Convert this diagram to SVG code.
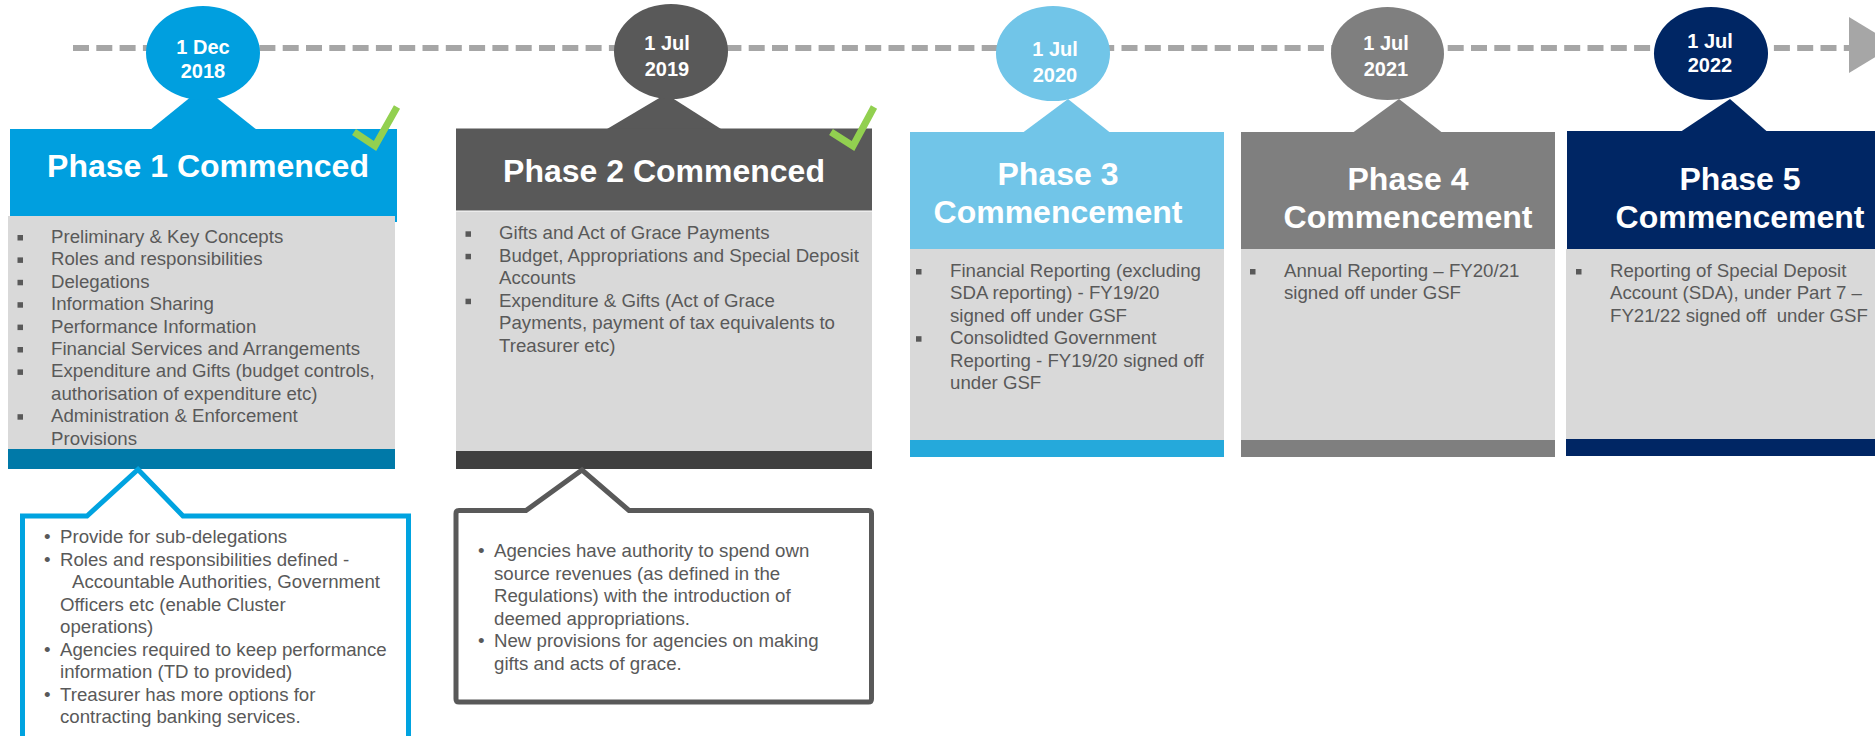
<svg xmlns="http://www.w3.org/2000/svg" width="1875" height="736" viewBox="0 0 1875 736">
<style>
text{font-family:"Liberation Sans",Arial,sans-serif;}
.date{font-size:20px;font-weight:bold;fill:#fff;text-anchor:middle;}
.head{font-size:32px;font-weight:bold;fill:#fff;text-anchor:middle;}
.body{font-size:18.67px;fill:#595959;white-space:pre;}
.body{font-size:18.67px;fill:#595959;}
.sq{fill:#595959;}
.body-bg{fill:#D9D9D9;}
.check{fill:none;stroke:#92D050;stroke-width:7;}
.c1{fill:#009FDF;} .c1b{fill:#0079A8;}
.c2{fill:#595959;} .c2b{fill:#404040;}
.c3{fill:#71C5E8;} .c3b{fill:#25A9DB;}
.c4{fill:#7F7F7F;} .c4b{fill:#7F7F7F;}
.c5{fill:#002664;} .c5b{fill:#002664;}
</style>
<g id="connectors">
<line x1="73" y1="48" x2="1849" y2="48" stroke="#A6A6A6" stroke-width="6" stroke-dasharray="16 7.3"/>
<polygon points="1849,17 1895,45 1849,73" fill="#A6A6A6"/>
</g>
<g id="phase1">
<polygon class="c1" points="203,87 257,130 150,130"/>
<ellipse class="c1" cx="203" cy="53" rx="57" ry="47"/>
<text class="date" x="203" y="54">1 Dec</text>
<text class="date" x="203" y="78">2018</text>
<rect class="c1" x="10" y="129" width="387" height="93"/>
<rect class="body-bg" x="8" y="216" width="387" height="233"/>
<rect class="c1b" x="8" y="449" width="387" height="20"/>
<text class="head" x="208" y="177">Phase 1 Commenced</text>
<polyline class="check" points="354,132 375,146 397,107"/>
<g class="body">
<text x="51" y="243">Preliminary &amp; Key Concepts</text>
<text x="51" y="265.4">Roles and responsibilities</text>
<text x="51" y="287.8">Delegations</text>
<text x="51" y="310.2">Information Sharing</text>
<text x="51" y="332.6">Performance Information</text>
<text x="51" y="355">Financial Services and Arrangements</text>
<text x="51" y="377.4">Expenditure and Gifts (budget controls,</text>
<text x="51" y="399.8">authorisation of expenditure etc)</text>
<text x="51" y="422.2">Administration &amp; Enforcement</text>
<text x="51" y="444.6">Provisions</text>
</g>
<g class="sq">
<rect x="17.5" y="235" width="5.5" height="5.5"/>
<rect x="17.5" y="257.4" width="5.5" height="5.5"/>
<rect x="17.5" y="279.8" width="5.5" height="5.5"/>
<rect x="17.5" y="302.2" width="5.5" height="5.5"/>
<rect x="17.5" y="324.6" width="5.5" height="5.5"/>
<rect x="17.5" y="347" width="5.5" height="5.5"/>
<rect x="17.5" y="369.4" width="5.5" height="5.5"/>
<rect x="17.5" y="414.2" width="5.5" height="5.5"/>
</g>
</g>
<g id="phase2">
<polygon class="c2" points="666,94 721,129 607,129"/>
<ellipse class="c2" cx="671" cy="51.5" rx="57" ry="47.5"/>
<text class="date" x="667" y="50">1 Jul</text>
<text class="date" x="667" y="76">2019</text>
<rect class="c2" x="456" y="128.5" width="416" height="82"/>
<rect class="body-bg" x="456" y="211.5" width="416" height="239.5"/>
<rect class="c2b" x="456" y="451" width="416" height="18"/>
<text class="head" x="664" y="182">Phase 2 Commenced</text>
<polyline class="check" points="831,132 853,146 874,107"/>
<g class="body">
<text x="499" y="239.3">Gifts and Act of Grace Payments</text>
<text x="499" y="261.8">Budget, Appropriations and Special Deposit</text>
<text x="499" y="284.3">Accounts</text>
<text x="499" y="306.7">Expenditure &amp; Gifts (Act of Grace</text>
<text x="499" y="329.2">Payments, payment of tax equivalents to</text>
<text x="499" y="351.7">Treasurer etc)</text>
</g>
<g class="sq">
<rect x="465.5" y="231.3" width="5.5" height="5.5"/>
<rect x="465.5" y="253.8" width="5.5" height="5.5"/>
<rect x="465.5" y="298.7" width="5.5" height="5.5"/>
</g>
</g>
<g id="phase3">
<polygon class="c3" points="1068,99 1110,132.5 1023,132.5"/>
<ellipse class="c3" cx="1053" cy="53.5" rx="57" ry="47.5"/>
<text class="date" x="1055" y="56">1 Jul</text>
<text class="date" x="1055" y="82">2020</text>
<rect class="c3" x="910" y="132" width="314" height="117"/>
<rect class="body-bg" x="910" y="249" width="314" height="191"/>
<rect class="c3b" x="910" y="440" width="314" height="17"/>
<text class="head" x="1058" y="185">Phase 3</text>
<text class="head" x="1058" y="223">Commencement</text>
<g class="body">
<text x="950" y="277">Financial Reporting (excluding</text>
<text x="950" y="299.4">SDA reporting) - FY19/20</text>
<text x="950" y="321.8">signed off under GSF</text>
<text x="950" y="344.2">Consolidted Government</text>
<text x="950" y="366.6">Reporting - FY19/20 signed off</text>
<text x="950" y="389">under GSF</text>
</g>
<g class="sq">
<rect x="916" y="269" width="5.5" height="5.5"/>
<rect x="916" y="336.2" width="5.5" height="5.5"/>
</g>
</g>
<g id="phase4">
<polygon class="c4" points="1399,99 1442,132.5 1353,132.5"/>
<ellipse class="c4" cx="1387.5" cy="53.5" rx="56.5" ry="46.5"/>
<text class="date" x="1386" y="50">1 Jul</text>
<text class="date" x="1386" y="76">2021</text>
<rect class="c4" x="1241" y="132" width="314" height="117"/>
<rect class="body-bg" x="1241" y="249" width="314" height="191"/>
<rect class="c4b" x="1241" y="440" width="314" height="17"/>
<text class="head" x="1408" y="190">Phase 4</text>
<text class="head" x="1408" y="228">Commencement</text>
<g class="body">
<text x="1284" y="277">Annual Reporting – FY20/21</text>
<text x="1284" y="299.4">signed off under GSF</text>
</g>
<rect class="sq" x="1250" y="269" width="5.5" height="5.5"/>
</g>
<g id="phase5">
<polygon class="c5" points="1730,99 1767,131.5 1681,131.5"/>
<ellipse class="c5" cx="1711" cy="53.5" rx="57" ry="46.5"/>
<text class="date" x="1710" y="48">1 Jul</text>
<text class="date" x="1710" y="72">2022</text>
<rect class="c5" x="1567" y="131" width="310" height="118"/>
<rect class="body-bg" x="1566" y="249" width="311" height="190"/>
<rect class="c5b" x="1566" y="439" width="311" height="17"/>
<text class="head" x="1740" y="190">Phase 5</text>
<text class="head" x="1740" y="228">Commencement</text>
<g class="body">
<text x="1610" y="277">Reporting of Special Deposit</text>
<text x="1610" y="299.4">Account (SDA), under Part 7 –</text>
<text x="1610" y="321.8" xml:space="preserve">FY21/22 signed off  under GSF</text>
</g>
<rect class="sq" x="1576" y="269" width="5.5" height="5.5"/>
</g>
<g id="callout1">
<path d="M22.5,516 H87 L138,469.5 L183,516 H408.5 V745 H22.5 Z" fill="#fff" stroke="#00A3E0" stroke-width="5" stroke-linejoin="miter"/>
<g class="body">
<text x="44" y="543">•</text>
<text x="60" y="543">Provide for sub-delegations</text>
<text x="44" y="565.5">•</text>
<text x="60" y="565.5">Roles and responsibilities defined -</text>
<text x="72" y="588">Accountable Authorities, Government</text>
<text x="60" y="610.5">Officers etc (enable Cluster</text>
<text x="60" y="633">operations)</text>
<text x="44" y="655.5">•</text>
<text x="60" y="655.5">Agencies required to keep performance</text>
<text x="60" y="678">information (TD to provided)</text>
<text x="44" y="700.5">•</text>
<text x="60" y="700.5">Treasurer has more options for</text>
<text x="60" y="723">contracting banking services.</text>
</g>
</g>
<g id="callout2">
<path d="M459,510.5 H526 L582,470 L629,510.5 H868.5 Q871.5,510.5 871.5,513.5 V699 Q871.5,702 868.5,702 H459 Q456,702 456,699 V513.5 Q456,510.5 459,510.5 Z" fill="#fff" stroke="#595959" stroke-width="5"/>
<g class="body">
<text x="478" y="557">•</text>
<text x="494" y="557">Agencies have authority to spend own</text>
<text x="494" y="579.5">source revenues (as defined in the</text>
<text x="494" y="602">Regulations) with the introduction of</text>
<text x="494" y="624.5">deemed appropriations.</text>
<text x="478" y="647">•</text>
<text x="494" y="647">New provisions for agencies on making</text>
<text x="494" y="669.5">gifts and acts of grace.</text>
</g>
</g>
</svg>
